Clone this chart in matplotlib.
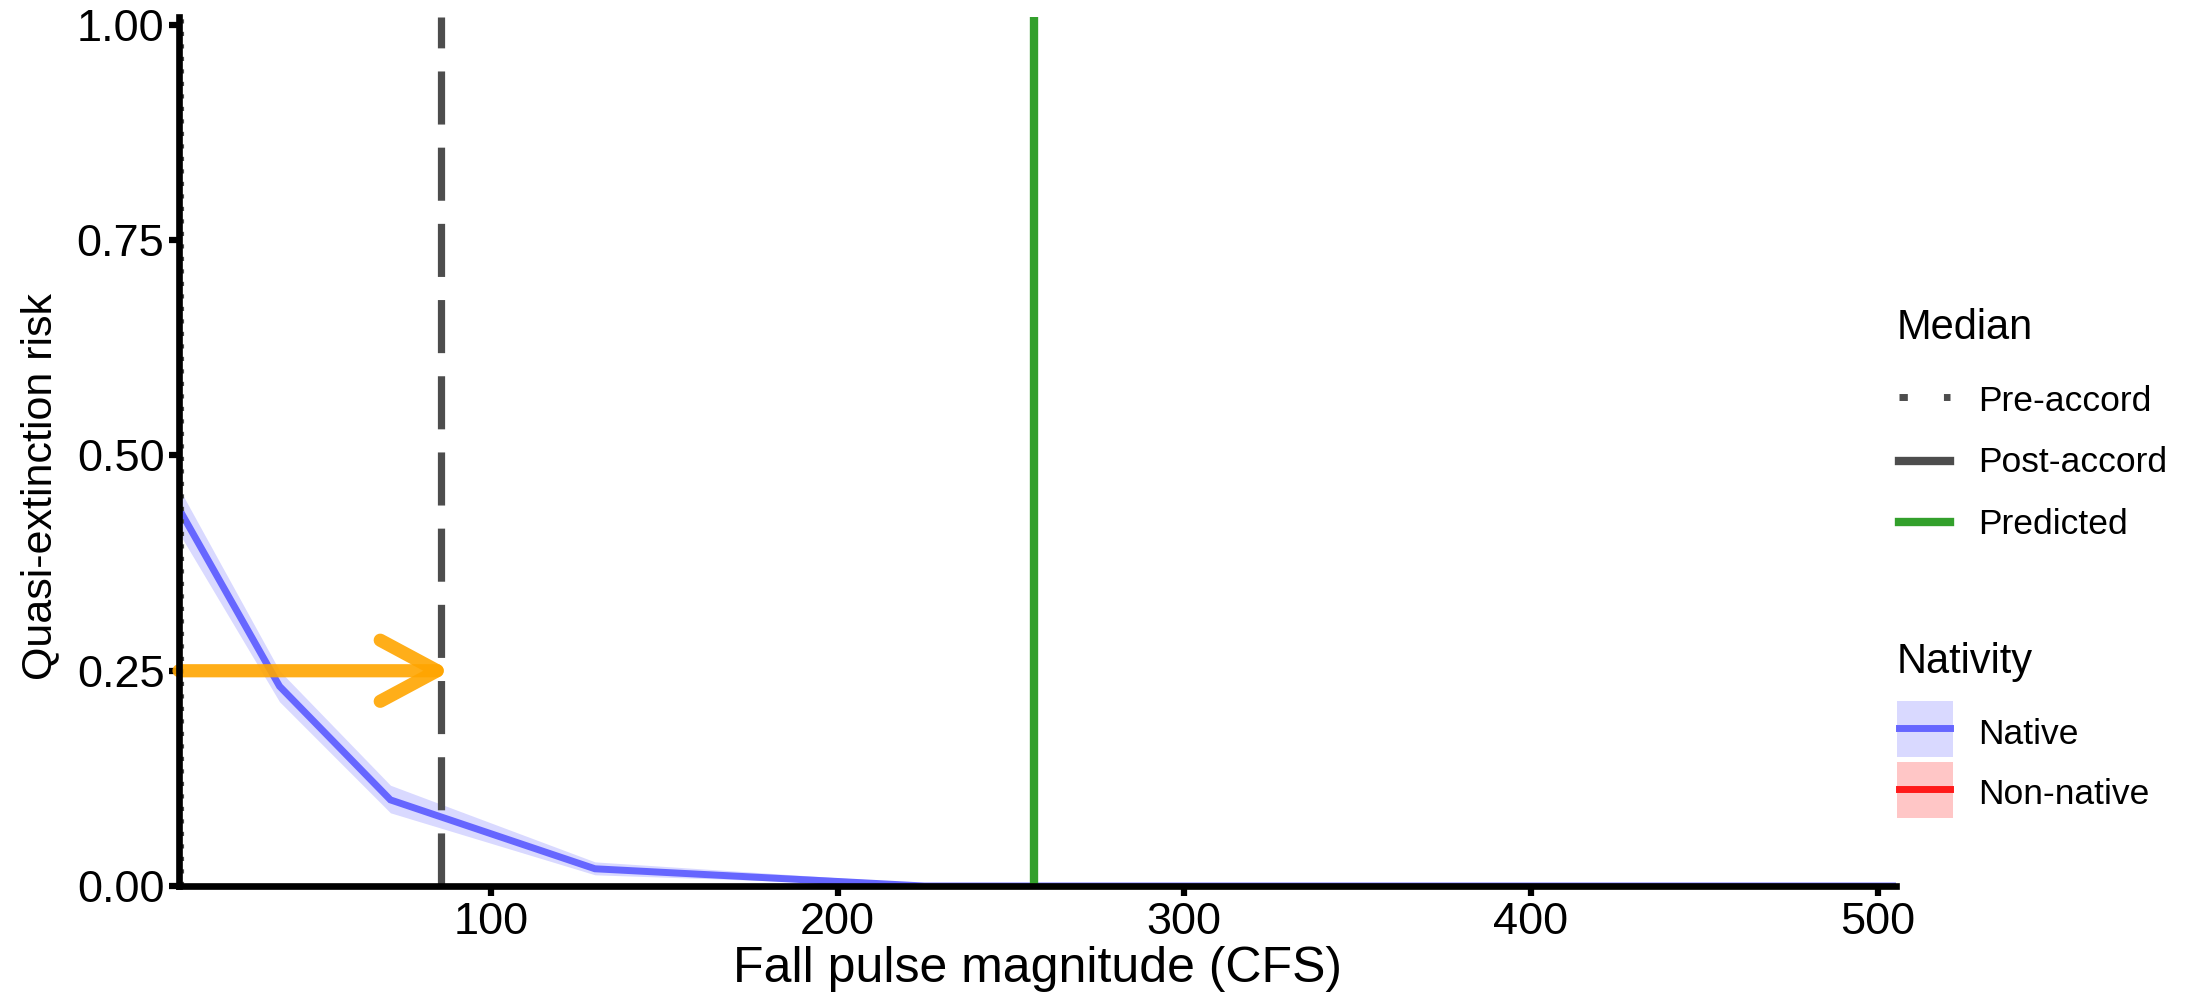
import matplotlib
matplotlib.use("Agg")
import matplotlib.pyplot as plt
from matplotlib.lines import Line2D
from matplotlib.patches import Rectangle

plt.rcParams['font.family'] = ['Liberation Sans', 'DejaVu Sans']

# ---- data ----
flow = [10, 39, 71, 130, 225, 505]
risk_native = [0.438, 0.232, 0.100, 0.020, 0.0, 0.0]
risk_lower = [0.410, 0.214, 0.085, 0.013, 0.0, 0.0]
risk_upper = [0.462, 0.250, 0.117, 0.028, 0.003, 0.0]
pre_accord = 11
post_accord = 85.6
predicted = 256.5
arrow_y = 0.25
arrow_tip = 88.5
x_ticks = [100, 200, 300, 400, 500]
y_ticks = [0.0, 0.25, 0.50, 0.75, 1.00]
y_ticklabels = ['0.00', '0.25', '0.50', '0.75', '1.00']
median_labels = ['Pre-accord', 'Post-accord', 'Predicted']
nativity_labels = ['Native', 'Non-native']

# ---- colours ----
c_native = '#6666FF'
c_native_fill = '#D9D9FF'
c_nonnative = '#FF1A1A'
c_nonnative_fill = '#FFC6C6'
c_gray = '#4D4D4D'
c_green = '#33A02C'
c_orange = '#FFA500'

W, H = 2195, 1002
y0_px, y1_px = 886, 25          # pixel rows of y=0 and y=1
top_px = 17                      # panel top
ymax = 1 + (y1_px - top_px) / (y0_px - y1_px)

fig = plt.figure(figsize=(W / 100, H / 100), dpi=100)
ax = fig.add_axes([179 / W, (H - y0_px) / H, (1896 - 179) / W, (y0_px - top_px) / H])

ax.fill_between(flow, risk_lower, risk_upper, color=c_native_fill, lw=0, zorder=1)
ax.plot(flow, risk_native, color=c_native, lw=5, zorder=2, solid_joinstyle='miter')

ax.axvline(pre_accord, color=c_gray, lw=3, ls=(0, (1, 2)), zorder=3)
ax.axvline(post_accord, color=c_gray, lw=5.2, dashes=(7.35, 3.2), zorder=3)
ax.axvline(predicted, color=c_green, lw=6, zorder=3)

ax.annotate('', xy=(arrow_tip, arrow_y), xytext=(flow[0], arrow_y),
            arrowprops=dict(arrowstyle='->,head_length=41,head_width=22',
                            lw=9.5, color=c_orange, alpha=0.9,
                            shrinkA=0, shrinkB=0, mutation_scale=1),
            zorder=4)

ax.set_xlim(10, 505.3)
ax.set_ylim(0, ymax)
ax.set_xticks(x_ticks)
ax.set_yticks(y_ticks)
ax.set_yticklabels(y_ticklabels)
for s in ['top', 'right']:
    ax.spines[s].set_visible(False)
for s in ['left', 'bottom']:
    ax.spines[s].set_linewidth(4.8)
    ax.spines[s].set_zorder(5)
    ax.spines[s].set_capstyle('projecting')
ax.tick_params(axis='both', direction='out', length=7.5, width=4.5,
               labelsize=32.5, color='black', labelcolor='black')
ax.tick_params(axis='x', pad=4)
ax.tick_params(axis='y', pad=3)
ax.set_xlabel('Fall pulse magnitude (CFS)', fontsize=36, labelpad=2)
ax.set_ylabel('Quasi-extinction risk', fontsize=31)
ax.yaxis.set_label_coords(-0.069, 0.46)
ax.patch.set_alpha(0)

# ---- legends (manual, figure pixel coordinates) ----
def fx(x):
    return x / W

def fy(y):
    return 1 - y / H

key_x0, key_x1, text_x, title_x = 1899, 1950, 1978, 1897
fig.text(fx(title_x), fy(328), 'Median', fontsize=30, va='center', ha='left')
styles = [dict(color=c_gray, lw=5, ls=(0, (1.2, 5.2)), dash_capstyle='butt'),
          dict(color=c_gray, lw=6),
          dict(color=c_green, lw=6)]
key_ys = [397, 461, 522]
text_ys = [402, 463, 524]
for lab, st, ky, ty in zip(median_labels, styles, key_ys, text_ys):
    fig.add_artist(Line2D([fx(key_x0), fx(key_x1)], [fy(ky), fy(ky)],
                          transform=fig.transFigure, **st))
    fig.text(fx(text_x), fy(ty), lab, fontsize=25.5, va='center', ha='left')

fig.text(fx(title_x), fy(662), 'Nativity', fontsize=30, va='center', ha='left')
nat_cols = [(c_native, c_native_fill), (c_nonnative, c_nonnative_fill)]
box_tops = [701, 762]
for lab, (lc, fc), top in zip(nativity_labels, nat_cols, box_tops):
    fig.add_artist(Rectangle((fx(1897), fy(top + 56)), 56 / W, 56 / H,
                             transform=fig.transFigure, color=fc, lw=0))
    yy = top + 27
    fig.add_artist(Line2D([fx(key_x0), fx(key_x1)], [fy(yy), fy(yy)],
                          transform=fig.transFigure, color=lc, lw=5))
    fig.text(fx(text_x), fy(yy + 6), lab, fontsize=25.5, va='center', ha='left')

fig.savefig('out.png', dpi=100)
